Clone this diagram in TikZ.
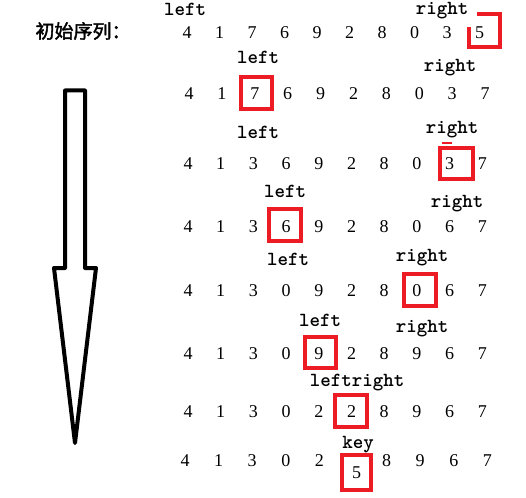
\documentclass[tikz,border=0pt]{standalone}
\usepackage{fontspec}
\setmainfont{Liberation Serif}
\newfontfamily\cjk[FakeBold=2]{Noto Sans CJK SC}
\definecolor{hlred}{RGB}{237,28,36}
\begin{document}
\begin{tikzpicture}[x=1pt,y=-1pt,font=\fontsize{18}{18}\selectfont,
		tag/.style={font=\ttfamily\bfseries\fontsize{20}{20}\selectfont,anchor=base,inner sep=0},
		hl/.style={draw=hlred,line width=4pt,inner sep=0}]
	\useasboundingbox (0,0) rectangle (526,497);
	\node[font=\cjk\fontsize{19}{19}\selectfont,anchor=west] (title) at (32,31) {初始序列：};
	\draw[line width=4pt,line join=round] (65,90.5)--(85,90.5)--(85,268)--(96,268)--(75,443)--(54,268)--(65,268)--cycle;
	\foreach \r/\y/\x/\dx/\seq in {1/39/187/32.5/{4,1,7,6,9,2,8,0,3,5},2/100/189/32.9/{4,1,7,6,9,2,8,0,3,7},
			3/169/188/32.7/{4,1,3,6,9,2,8,0,3,7},4/232/188/32.7/{4,1,3,6,9,2,8,0,6,7},
			5/296/188/32.7/{4,1,3,0,9,2,8,0,6,7},6/359/188/32.7/{4,1,3,0,9,2,8,9,6,7},
			7/417/188/32.7/{4,1,3,0,2,2,8,9,6,7},8/466/185/33.6/{4,1,3,0,2,{},8,9,6,7}}
		\foreach \d [count=\i] in \seq
			\node[anchor=base,inner sep=0] (n\r\i) at ({\x+(\i-1)*\dx},\y) {\d};
	\foreach \t/\x/\y [count=\i] in {left/185/16,right/442/15,left/258/64,right/450/72,left/258/139,right/452/133,
			left/285/197,right/457/207,left/288/265,right/422/261,left/320/326,right/422/332,leftright/357/386,key/358/448}
		\node[tag] (t\i) at (\x,\y) {\t};
	\draw[hlred,line width=4pt] (477,14.5)--(499.5,14.5)--(499.5,47)--(469,47)--(469,27);
	\draw[hlred,line width=1.2pt] (442,143)--(452,143);
	\foreach \k/\cx/\cy/\w/\h in {2/256.5/93/31/32,3/456.5/163.5/33/31,4/285/225/32/32,5/420/290/32/32,6/320.5/352.5/31/31,7/351/411/32/32}
		\node[hl,minimum width=\w pt,minimum height=\h pt] (k\k) at (\cx,\cy) {};
	\node[hl,minimum width=29pt,minimum height=35pt] (k8) at (356.5,472.5) {5};
\end{tikzpicture}
\end{document}
